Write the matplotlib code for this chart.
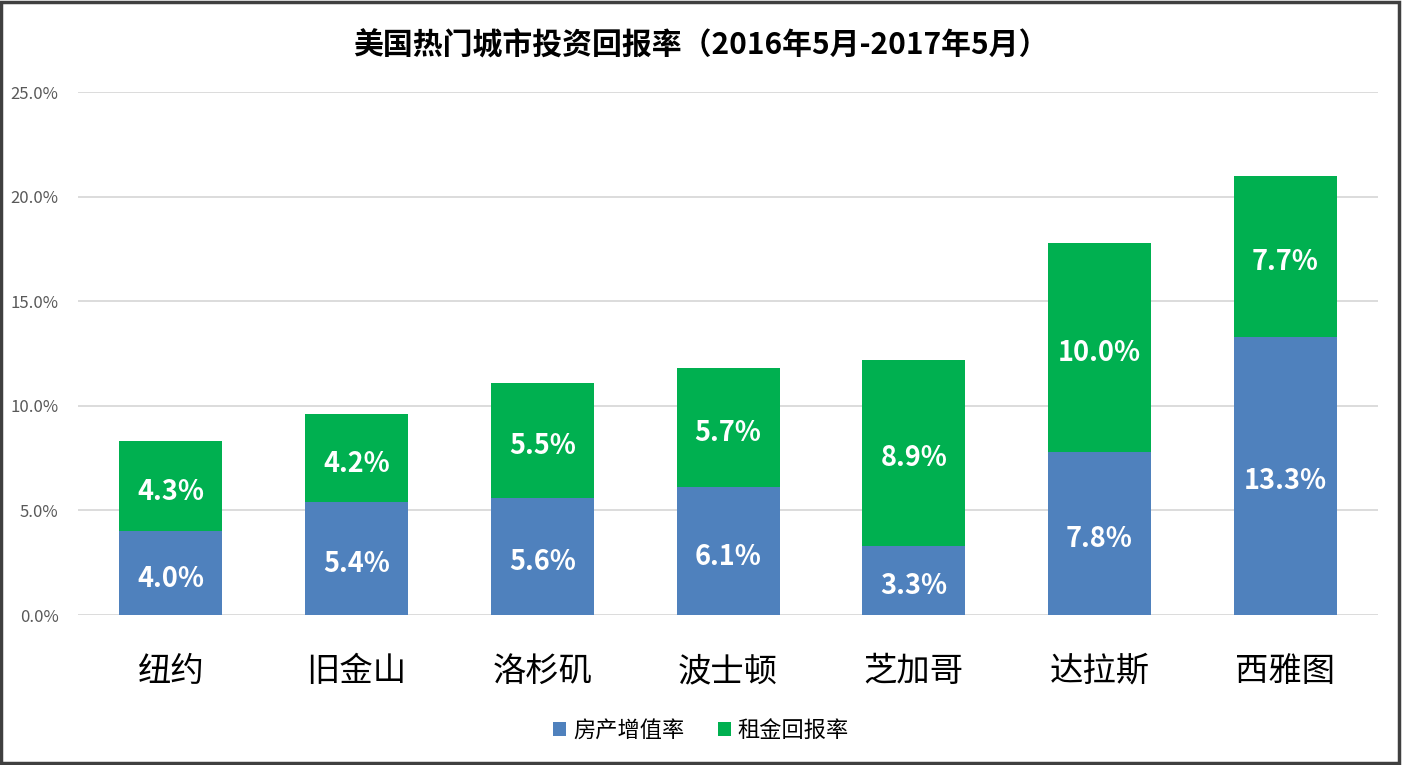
import matplotlib.pyplot as plt
from matplotlib.patches import Rectangle
import numpy as np

plt.rcParams['font.family'] = ['Noto Sans CJK SC', 'DejaVu Sans']

cities = ['纽约', '旧金山', '洛杉矶', '波士顿', '芝加哥', '达拉斯', '西雅图']
appreciation = [4.0, 5.4, 5.6, 6.1, 3.3, 7.8, 13.3]
rent_return = [4.3, 4.2, 5.5, 5.7, 8.9, 10.0, 7.7]
series_names = ['房产增值率', '租金回报率']
yticks = [0, 5, 10, 15, 20, 25]

blue = '#4F81BD'
green = '#00B050'

fig = plt.figure(figsize=(14.02, 7.65), dpi=100)
ax = fig.add_axes([0.0556, 0.196, 0.9274, 0.6837])

x = np.arange(len(cities))
w = 0.555
b1 = ax.bar(x, appreciation, w, color=blue, label=series_names[0], zorder=3)
b2 = ax.bar(x, rent_return, w, bottom=appreciation, color=green,
            label=series_names[1], zorder=3)

# value labels, nudged down a little like the original
for i in range(len(cities)):
    ax.annotate(f'{appreciation[i]:.1f}%', (x[i], appreciation[i] / 2),
                xytext=(0, -4), textcoords='offset points', ha='center',
                va='center', color='white', fontsize=19.5, fontweight='bold', zorder=4)
    ax.annotate(f'{rent_return[i]:.1f}%', (x[i], appreciation[i] + rent_return[i] / 2),
                xytext=(0, -4), textcoords='offset points', ha='center',
                va='center', color='white', fontsize=19.5, fontweight='bold', zorder=4)

ax.set_xlim(-0.5, len(cities) - 0.5)
ax.set_ylim(0, 25)
ax.set_yticks(yticks)
ax.set_yticklabels([f'{t:.1f}%' for t in yticks], fontsize=12, color='#595959')
ax.set_xticks(x)
ax.set_xticklabels(cities, fontsize=24, color='black')
ax.tick_params(axis='both', length=0)
ax.tick_params(axis='x', pad=28)
ax.tick_params(axis='y', pad=14)
ax.grid(axis='y', color='#D9D9D9', linewidth=1.3, zorder=0)
for s in ax.spines.values():
    s.set_visible(False)

fig.text(0.5, 0.94, '美国热门城市投资回报率（2016年5月-2017年5月）', ha='center',
         va='center', fontsize=21.5, fontweight='bold')

fig.legend(handles=[b1, b2], loc='center', bbox_to_anchor=(0.5, 0.045), ncol=2,
           frameon=False, fontsize=16, handlelength=0.6, handleheight=0.6,
           handletextpad=0.3, columnspacing=1.5)

fig.patches.append(Rectangle((0.001, 0.002), 0.997, 0.996, transform=fig.transFigure,
                             fill=False, edgecolor='#404040', linewidth=2.5))

fig.savefig('out.png', dpi=100)
